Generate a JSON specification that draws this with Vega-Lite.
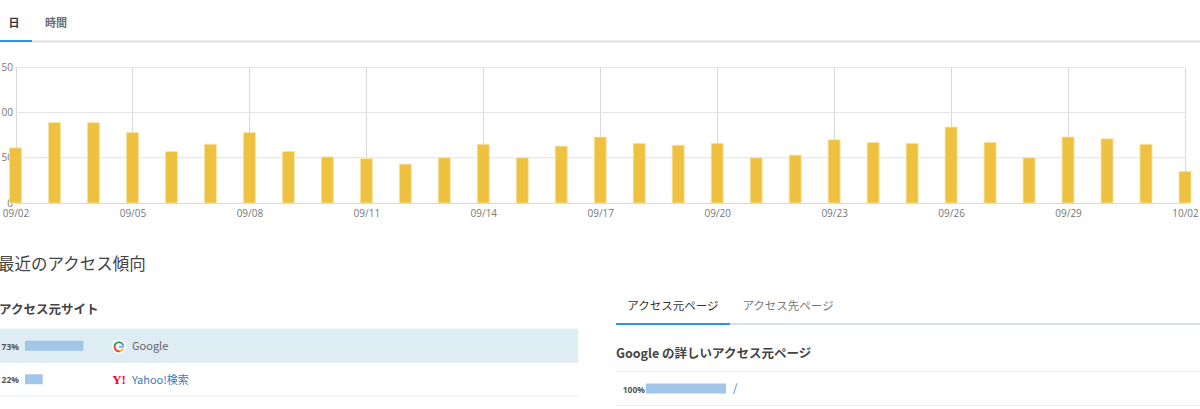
{
  "$schema": "https://vega.github.io/schema/vega-lite/v6.json",
  "padding": {"left": -5, "top": 0, "right": 0, "bottom": 0},
  "autosize": {"type": "pad"},
  "background": "#ffffff",
  "bounds": "flush",
  "spacing": 25.5,
  "config": {
    "view": {"stroke": null},
    "text": {"font": "Noto Sans CJK JP"},
    "axis": {"labelFont": "Open Sans"}
  },
  "datasets": {
    "daily": [
      {"day": "2022-09-02", "count": 61},
      {"day": "2022-09-03", "count": 89},
      {"day": "2022-09-04", "count": 89},
      {"day": "2022-09-05", "count": 78},
      {"day": "2022-09-06", "count": 57},
      {"day": "2022-09-07", "count": 65},
      {"day": "2022-09-08", "count": 78},
      {"day": "2022-09-09", "count": 57},
      {"day": "2022-09-10", "count": 51},
      {"day": "2022-09-11", "count": 49},
      {"day": "2022-09-12", "count": 43},
      {"day": "2022-09-13", "count": 50},
      {"day": "2022-09-14", "count": 65},
      {"day": "2022-09-15", "count": 50},
      {"day": "2022-09-16", "count": 63},
      {"day": "2022-09-17", "count": 73},
      {"day": "2022-09-18", "count": 66},
      {"day": "2022-09-19", "count": 64},
      {"day": "2022-09-20", "count": 66},
      {"day": "2022-09-21", "count": 50},
      {"day": "2022-09-22", "count": 53},
      {"day": "2022-09-23", "count": 70},
      {"day": "2022-09-24", "count": 67},
      {"day": "2022-09-25", "count": 66},
      {"day": "2022-09-26", "count": 84},
      {"day": "2022-09-27", "count": 67},
      {"day": "2022-09-28", "count": 50},
      {"day": "2022-09-29", "count": 73},
      {"day": "2022-09-30", "count": 71},
      {"day": "2022-10-01", "count": 65},
      {"day": "2022-10-02", "count": 35}
    ],
    "gridlines": [
      {"tick": 50, "start": "2022-09-02", "end": "2022-10-02"},
      {"tick": 100, "start": "2022-09-02", "end": "2022-10-02"},
      {"tick": 150, "start": "2022-09-02", "end": "2022-10-02"}
    ],
    "sites": [
      {"site": "Google", "icon": "G", "share": 0.73},
      {"site": "Yahoo!検索", "icon": "Y!", "share": 0.22}
    ],
    "googleLogo": [
      {"part": "gap", "sweep": 40},
      {"part": "blue", "sweep": 25},
      {"part": "green", "sweep": 130},
      {"part": "yellow", "sweep": 55},
      {"part": "red", "sweep": 110}
    ],
    "pages": [{"page": "/", "share": 1}],
    "topTabs": [
      {"tab": "日", "active": true},
      {"tab": "時間", "active": false}
    ],
    "pageTabs": [
      {"tab": "アクセス元ページ", "active": true},
      {"tab": "アクセス先ページ", "active": false}
    ]
  },
  "vconcat": [
    {
      "width": 1200,
      "height": 42,
      "data": {"name": "topTabs"},
      "resolve": {"scale": {"y": "independent"}},
      "encoding": {
        "x": {"field": "tab", "type": "nominal", "sort": null, "axis": null,
          "scale": {"type": "band", "domain": ["日", "時間"], "range": [0, 74], "paddingInner": 0.238, "paddingOuter": 0}}
      },
      "layer": [
        {"mark": {"type": "rule", "color": "#d9e0e5", "strokeWidth": 1.5},
          "encoding": {"x": null, "y": {"datum": 41.5, "type": "quantitative", "axis": null, "scale": {"domain": [0, 42], "range": [0, 42]}}}},
        {"transform": [{"filter": "datum.active"}],
          "mark": {"type": "bar", "color": "#2f96de"},
          "encoding": {
            "y": {"datum": 40, "type": "quantitative", "axis": null, "scale": {"domain": [0, 42], "range": [0, 42], "padding": 0}},
            "y2": {"datum": 42}
          }},
        {"mark": {"type": "text", "fontSize": 11, "dx": -2, "fontWeight": "bold"},
          "encoding": {
            "text": {"field": "tab"},
            "y": {"datum": 23.5, "type": "quantitative", "axis": null, "scale": {"domain": [0, 42], "range": [0, 42]}},
            "color": {"field": "active", "type": "nominal", "legend": null,
              "scale": {"domain": [true, false], "range": ["#333333", "#666f75"]}}
          }}
      ]
    },
    {
      "width": 1200,
      "height": 135.5,
      "encoding": {
        "x": {"field": "day", "type": "temporal", "title": null,
          "scale": {"type": "utc", "domain": ["2022-09-02", "2022-10-02"], "range": [15.5, 1185], "padding": 0}},
        "y": {"field": "count", "type": "quantitative", "title": null, "scale": {"domain": [0, 150]}}
      },
      "layer": [
        {"data": {"name": "gridlines"},
          "mark": {"type": "rule", "color": "#e2e2e2"},
          "encoding": {
            "x": {"field": "start", "type": "temporal"},
            "x2": {"field": "end"},
            "y": {"field": "tick", "type": "quantitative"}
          }},
        {"data": {"name": "daily"},
          "transform": [{"filter": "datum.day == '2022-10-02'"}],
          "mark": {"type": "rule", "color": "#d2d2d2", "strokeWidth": 1.5},
          "encoding": {"y": null}},
        {"data": {"name": "daily"},
          "mark": {"type": "bar", "size": 12, "color": "#eec240", "stroke": "#f8e3a4", "strokeWidth": 0.8},
          "encoding": {
            "x": {"field": "day", "type": "temporal",
              "axis": {"labelExpr": "utcFormat(datum.value, '%m/%d')",
                "values": ["2022-09-02", "2022-09-05", "2022-09-08", "2022-09-11", "2022-09-14", "2022-09-17", "2022-09-20", "2022-09-23", "2022-09-26", "2022-09-29", "2022-10-02"],
                "grid": true, "gridColor": "#d9d9d9", "ticks": false, "domainColor": "#d9d9d9",
                "labelColor": "#777777", "labelFontSize": 10, "labelPadding": 5, "labelAngle": 0, "labelOverlap": false, "labelFlush": false}},
            "y": {"field": "count", "type": "quantitative",
              "axis": {"values": [0, 50, 100, 150], "offset": -15.5, "grid": false, "ticks": false, "domain": false,
                "labelColor": "#777777", "labelFontSize": 10, "labelPadding": 3}}
          }}
      ]
    },
    {
      "width": 1200,
      "height": 41,
      "data": {"values": [{"heading": "最近のアクセス傾向"}]},
      "mark": {"type": "text", "fontSize": 16.5, "align": "left", "dy": 15, "dx": -2, "color": "#444444"},
      "encoding": {
        "text": {"field": "heading"},
        "x": {"datum": 0, "type": "quantitative", "axis": null, "scale": {"domain": [0, 1]}}
      }
    },
    {
      "width": 1200,
      "height": 114,
      "resolve": {"scale": {"x": "independent", "y": "independent", "color": "independent", "theta": "independent"}},
      "layer": [
        {"data": {"values": [{"heading": "アクセス元サイト"}]},
          "mark": {"type": "text", "fontSize": 12.5, "fontWeight": "bold", "align": "left", "dx": -1, "color": "#444444"},
          "encoding": {
            "text": {"field": "heading"},
            "x": {"datum": 0, "type": "quantitative", "axis": null, "scale": {"domain": [0, 1], "range": [0, 578]}},
            "y": {"datum": 14, "type": "quantitative", "axis": null, "scale": {"domain": [0, 114], "range": [0, 114]}}
          }},
        {"data": {"name": "sites"},
          "transform": [{"filter": "datum.site == 'Google'"}],
          "mark": {"type": "rect", "color": "#deecf4"},
          "encoding": {
            "x": {"datum": 0, "type": "quantitative", "axis": null, "scale": {"domain": [0, 1], "range": [0, 578]}},
            "x2": {"datum": 1},
            "y": {"field": "site", "type": "nominal", "axis": null, "scale": {"type": "band", "domain": ["Google"], "range": [33.5, 67]}}
          }},
        {"data": {"name": "sites"},
          "mark": {"type": "rule", "color": "#e8edf0"},
          "encoding": {
            "x": {"datum": 0, "type": "quantitative", "axis": null, "scale": {"domain": [0, 1], "range": [0, 578]}},
            "x2": {"datum": 1},
            "y": {"field": "site", "type": "nominal", "sort": null, "bandPosition": 0, "axis": null, "scale": {"type": "band", "paddingInner": 0, "paddingOuter": 0, "range": [33.5, 100.5]}}
          }},
        {"data": {"name": "sites"},
          "mark": {"type": "rule", "color": "#e8edf0"},
          "encoding": {
            "x": {"datum": 0, "type": "quantitative", "axis": null, "scale": {"domain": [0, 1], "range": [0, 578]}},
            "x2": {"datum": 1},
            "y": {"field": "site", "type": "nominal", "sort": null, "bandPosition": 1, "axis": null, "scale": {"type": "band", "paddingInner": 0, "paddingOuter": 0, "range": [33.5, 100.5]}}
          }},
        {"data": {"name": "sites"},
          "mark": {"type": "bar", "size": 10, "color": "#a3c6e8"},
          "encoding": {
            "x": {"field": "share", "type": "quantitative", "axis": null, "scale": {"domain": [0, 1], "range": [25, 105]}},
            "y": {"field": "site", "type": "nominal", "sort": null, "axis": null, "scale": {"type": "band", "paddingInner": 0, "paddingOuter": 0, "range": [33.5, 100.5]}}
          }},
        {"data": {"name": "sites"},
          "mark": {"type": "text", "fontSize": 8.5, "fontWeight": "bold", "align": "right", "dx": -6, "dy": 1, "color": "#555555", "font": "Open Sans"},
          "encoding": {
            "text": {"field": "share", "type": "quantitative", "format": ".0%"},
            "x": {"datum": 0, "type": "quantitative", "axis": null, "scale": {"domain": [0, 1], "range": [25, 105]}},
            "y": {"field": "site", "type": "nominal", "sort": null, "axis": null, "scale": {"type": "band", "paddingInner": 0, "paddingOuter": 0, "range": [33.5, 100.5]}}
          }},
        {"data": {"name": "sites"},
          "transform": [{"filter": "datum.site == 'Google'"}],
          "mark": {"type": "point", "filled": true, "color": "#ffffff", "opacity": 1, "size": 200, "xOffset": 94, "yOffset": 1},
          "encoding": {
            "x": {"datum": 0, "type": "quantitative", "axis": null, "scale": {"domain": [0, 1], "range": [25, 105]}},
            "y": {"field": "site", "type": "nominal", "axis": null, "scale": {"type": "band", "domain": ["Google"], "range": [33.5, 67]}}
          }},
        {"data": {"name": "googleLogo"},
          "mark": {"type": "arc", "radius": 5.5, "radius2": 3.5, "xOffset": 94, "yOffset": 1},
          "encoding": {
            "theta": {"field": "sweep", "type": "quantitative", "stack": true, "sort": null, "scale": {"domain": [0, 360], "range": [0.873, 7.156]}},
            "order": {"field": "sweep", "sort": null},
            "color": {"field": "part", "type": "nominal", "legend": null,
              "scale": {"domain": ["gap", "blue", "green", "yellow", "red"], "range": ["#ffffff", "#4285f4", "#34a853", "#fbbc05", "#ea4335"]}},
            "x": {"datum": 0, "type": "quantitative", "axis": null, "scale": {"domain": [0, 1], "range": [25, 105]}},
            "y": {"datum": "Google", "type": "nominal", "axis": null, "scale": {"type": "band", "domain": ["Google"], "range": [33.5, 67]}}
          }},
        {"data": {"name": "sites"},
          "transform": [{"filter": "datum.site == 'Google'"}],
          "mark": {"type": "tick", "orient": "horizontal", "size": 5, "thickness": 2, "color": "#4285f4", "xOffset": 96.5, "yOffset": 1},
          "encoding": {
            "x": {"datum": 0, "type": "quantitative", "axis": null, "scale": {"domain": [0, 1], "range": [25, 105]}},
            "y": {"field": "site", "type": "nominal", "axis": null, "scale": {"type": "band", "domain": ["Google"], "range": [33.5, 67]}}
          }},
        {"data": {"name": "sites"},
          "transform": [{"filter": "datum.icon == 'Y!'"}],
          "mark": {"type": "text", "fontSize": 13, "fontWeight": "bold", "align": "center", "dx": 94, "dy": 1, "font": "Liberation Serif", "color": "#f5003c"},
          "encoding": {
            "text": {"field": "icon"},
            "x": {"datum": 0, "type": "quantitative", "axis": null, "scale": {"domain": [0, 1], "range": [25, 105]}},
            "y": {"field": "site", "type": "nominal", "axis": null, "scale": {"type": "band", "domain": ["Google", "Yahoo!検索"], "paddingInner": 0, "paddingOuter": 0, "range": [33.5, 100.5]}}
          }},
        {"data": {"name": "sites"},
          "mark": {"type": "text", "fontSize": 11, "align": "left", "dx": 107, "dy": 1.5},
          "encoding": {
            "text": {"field": "site"},
            "x": {"datum": 0, "type": "quantitative", "axis": null, "scale": {"domain": [0, 1], "range": [25, 105]}},
            "y": {"field": "site", "type": "nominal", "sort": null, "axis": null, "scale": {"type": "band", "paddingInner": 0, "paddingOuter": 0, "range": [33.5, 100.5]}},
            "color": {"field": "site", "type": "nominal", "legend": null,
              "scale": {"domain": ["Google", "Yahoo!検索"], "range": ["#666666", "#3b78c8"]}}
          }},
        {"data": {"name": "pageTabs"},
          "mark": {"type": "rule", "color": "#d9e0e5", "strokeWidth": 1.5},
          "encoding": {
            "x": {"datum": 0, "type": "quantitative", "axis": null, "scale": {"domain": [0, 1], "range": [616, 1200]}},
            "x2": {"datum": 1},
            "y": {"datum": 28.5, "type": "quantitative", "axis": null, "scale": {"domain": [0, 114], "range": [0, 114]}}
          }},
        {"data": {"name": "pageTabs"},
          "transform": [{"filter": "datum.active"}],
          "mark": {"type": "bar", "color": "#2f96de"},
          "encoding": {
            "x": {"field": "tab", "type": "nominal", "axis": null, "scale": {"type": "band", "domain": ["アクセス元ページ", "アクセス先ページ"], "range": [616, 845], "paddingInner": 0.01, "paddingOuter": 0}},
            "y": {"datum": 27.5, "type": "quantitative", "axis": null, "scale": {"domain": [0, 114], "range": [0, 114], "padding": 0}},
            "y2": {"datum": 29.5}
          }},
        {"data": {"name": "pageTabs"},
          "mark": {"type": "text", "fontSize": 11.5},
          "encoding": {
            "text": {"field": "tab"},
            "x": {"field": "tab", "type": "nominal", "axis": null, "scale": {"type": "band", "domain": ["アクセス元ページ", "アクセス先ページ"], "range": [616, 845], "paddingInner": 0.01, "paddingOuter": 0}},
            "y": {"datum": 11, "type": "quantitative", "axis": null, "scale": {"domain": [0, 114], "range": [0, 114]}},
            "color": {"field": "active", "type": "nominal", "legend": null,
              "scale": {"domain": [true, false], "range": ["#333333", "#777777"]}}
          }},
        {"data": {"values": [{"heading": "Google の詳しいアクセス元ページ"}]},
          "mark": {"type": "text", "fontSize": 12.5, "fontWeight": "bold", "align": "left", "color": "#444444"},
          "encoding": {
            "text": {"field": "heading"},
            "x": {"datum": 0, "type": "quantitative", "axis": null, "scale": {"domain": [0, 1], "range": [616, 1200]}},
            "y": {"datum": 58, "type": "quantitative", "axis": null, "scale": {"domain": [0, 114], "range": [0, 114]}}
          }},
        {"data": {"name": "pages"},
          "mark": {"type": "rule", "color": "#e8edf0"},
          "encoding": {
            "x": {"datum": 0, "type": "quantitative", "axis": null, "scale": {"domain": [0, 1], "range": [616, 1200]}},
            "x2": {"datum": 1},
            "y": {"field": "page", "type": "nominal", "bandPosition": 0, "axis": null, "scale": {"type": "band", "paddingInner": 0, "paddingOuter": 0, "range": [76, 110]}}
          }},
        {"data": {"name": "pages"},
          "mark": {"type": "rule", "color": "#e8edf0"},
          "encoding": {
            "x": {"datum": 0, "type": "quantitative", "axis": null, "scale": {"domain": [0, 1], "range": [616, 1200]}},
            "x2": {"datum": 1},
            "y": {"field": "page", "type": "nominal", "bandPosition": 1, "axis": null, "scale": {"type": "band", "paddingInner": 0, "paddingOuter": 0, "range": [76, 110]}}
          }},
        {"data": {"name": "pages"},
          "mark": {"type": "bar", "size": 10, "color": "#a3c6e8"},
          "encoding": {
            "x": {"field": "share", "type": "quantitative", "axis": null, "scale": {"domain": [0, 1], "range": [646, 726]}},
            "y": {"field": "page", "type": "nominal", "axis": null, "scale": {"type": "band", "paddingInner": 0, "paddingOuter": 0, "range": [76, 110]}}
          }},
        {"data": {"name": "pages"},
          "mark": {"type": "text", "fontSize": 8.5, "fontWeight": "bold", "align": "right", "dx": -1, "dy": 1, "color": "#555555", "font": "Open Sans"},
          "encoding": {
            "text": {"field": "share", "type": "quantitative", "format": ".0%"},
            "x": {"datum": 0, "type": "quantitative", "axis": null, "scale": {"domain": [0, 1], "range": [646, 726]}},
            "y": {"field": "page", "type": "nominal", "axis": null, "scale": {"type": "band", "paddingInner": 0, "paddingOuter": 0, "range": [76, 110]}}
          }},
        {"data": {"name": "pages"},
          "mark": {"type": "text", "fontSize": 11, "align": "left", "dx": 87, "color": "#3b78c8"},
          "encoding": {
            "text": {"field": "page"},
            "x": {"datum": 0, "type": "quantitative", "axis": null, "scale": {"domain": [0, 1], "range": [646, 726]}},
            "y": {"field": "page", "type": "nominal", "axis": null, "scale": {"type": "band", "paddingInner": 0, "paddingOuter": 0, "range": [76, 110]}}
          }}
      ]
    }
  ]
}
